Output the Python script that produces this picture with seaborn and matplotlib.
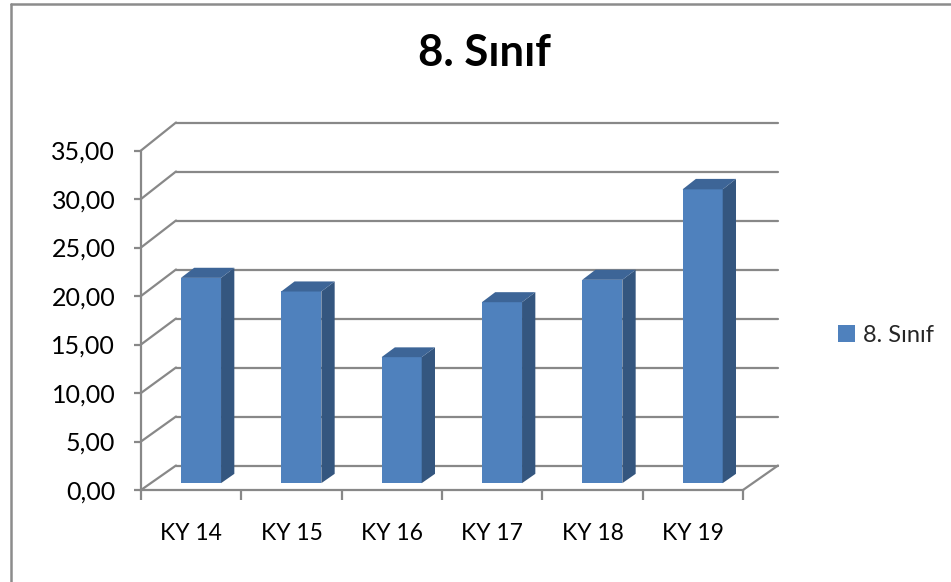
import matplotlib
matplotlib.use("Agg")
import matplotlib.pyplot as plt
import seaborn as sns
import numpy as np
import pandas as pd
from matplotlib.patches import Polygon
from matplotlib.lines import Line2D
from matplotlib.ticker import FuncFormatter, FixedLocator

categories = ["KY 14", "KY 15", "KY 16", "KY 17", "KY 18", "KY 19"]
values = [21.1, 19.7, 12.95, 18.6, 20.9, 30.2]
series_name = "8. Sınıf"
title = "8. Sınıf"
y_ticks = [0, 5, 10, 15, 20, 25, 30, 35]

sns.set_style("white")
plt.rcParams["font.family"] = ["Lato", "DejaVu Sans"]

W, H = 951, 582
fig = plt.figure(figsize=(W / 100, H / 100), dpi=100)

# front plane of the plot area (pixels)
x0, x1 = 141, 743
yb, yt = 490, 150.5
ax = fig.add_axes([x0 / W, 1 - yb / H, (x1 - x0) / W, (yb - yt) / H])

df = pd.DataFrame({"cat": categories, "val": values})
sns.barplot(data=df, x="cat", y="val", ax=ax, width=0.4, color="#4F81BD",
            saturation=1, label=series_name, zorder=3)
ax.set_xlim(-0.5, len(categories) - 0.5)
ax.set_ylim(0, 35)

# oblique depth projection
px_per_x = (x1 - x0) / len(categories)
px_per_v = (yb - yt) / 35
DX = 35 / px_per_x
DY = 24.5 / px_per_v
K = 0.0103


def P(x, v, t):
    return (x + t * DX, v * (1 + K * t) + t * DY)


grid_c = "#888888"
lw = 1.6
xl_, xr_ = -0.5, len(categories) - 0.5

# back wall gridlines + side wall diagonals
for v in y_ticks:
    a, b = P(xl_, v, 1), P(xr_, v, 1)
    ax.add_line(Line2D([a[0], b[0]], [a[1], b[1]], color=grid_c, lw=lw,
                       clip_on=False, zorder=1))
    c, d = P(xl_, v, 0), P(xl_, v, 1)
    ax.add_line(Line2D([c[0], d[0]], [c[1], d[1]], color=grid_c, lw=lw,
                       clip_on=False, zorder=1))
# floor right edge
c, d = P(xr_, 0, 0), P(xr_, 0, 1)
ax.add_line(Line2D([c[0], d[0]], [c[1], d[1]], color=grid_c, lw=lw,
                   clip_on=False, zorder=1))

# 3D bars
t0, t1 = 0.28, 0.66
side_c = "#34567F"
top_c = "#3D6597"
for p in list(ax.patches):
    xl = p.get_x()
    xr = xl + p.get_width()
    v = p.get_height()
    fx, fy = P(xl, 0, t0)
    p.set_x(fx)
    p.set_y(fy)
    p.set_height(v * (1 + K * t0))
    p.set_clip_on(False)
    p.set_edgecolor("none")
    side = [P(xr, 0, t0), P(xr, v, t0), P(xr, v, t1), P(xr, 0, t1)]
    top = [P(xl, v, t0), P(xr, v, t0), P(xr, v, t1), P(xl, v, t1)]
    ax.add_patch(Polygon(side, closed=True, facecolor=side_c, edgecolor="none",
                         clip_on=False, zorder=3))
    ax.add_patch(Polygon(top, closed=True, facecolor=top_c, edgecolor="none",
                         clip_on=False, zorder=3))

# spines / axes
for s in ["top", "right"]:
    ax.spines[s].set_visible(False)
for s in ["left", "bottom"]:
    ax.spines[s].set_color(grid_c)
    ax.spines[s].set_linewidth(lw)
ax.set_facecolor("none")
ax.set_xlabel("")
ax.set_ylabel("")
ax.yaxis.set_major_locator(FixedLocator(y_ticks))
ax.yaxis.set_major_formatter(FuncFormatter(lambda v, pos: f"{v:.2f}".replace(".", ",")))
ax.tick_params(axis="y", direction="out", length=5, width=lw, color=grid_c,
               pad=13.5, labelsize=18, labelcolor="black", left=True)
ax.set_xticks(range(len(categories)))
ax.set_xticklabels(categories)
ax.tick_params(axis="x", which="major", length=0, pad=24, labelsize=16.5,
               labelcolor="black")
ax.set_xticks(np.arange(-0.5, len(categories), 1.0), minor=True)
ax.tick_params(axis="x", which="minor", direction="out", length=7.5, width=lw,
               color=grid_c, bottom=True)
ax.grid(False)

# legend
handles, labels = ax.get_legend_handles_labels()
leg = ax.legend(handles, labels, loc="center left",
                bbox_to_anchor=(838 / W, 1 - 335 / H),
                bbox_transform=fig.transFigure, frameon=False,
                fontsize=17, handlelength=0.7, handleheight=0.7,
                handletextpad=0.35, borderpad=0, borderaxespad=0)

# title
fig.text(484 / W, 1 - 53 / H, title, ha="center", va="center",
         fontsize=31.5, fontweight="bold", color="black")

# chart border (left and top only visible)
fig.add_artist(Line2D([11 / W, 11 / W], [0, 1 - 4 / H], color="#8C8C8C",
                      lw=1.8, transform=fig.transFigure))
fig.add_artist(Line2D([11 / W, 1], [1 - 4 / H, 1 - 4 / H], color="#8C8C8C",
                      lw=1.8, transform=fig.transFigure))

fig.savefig("out.png", dpi=100, facecolor="white")
